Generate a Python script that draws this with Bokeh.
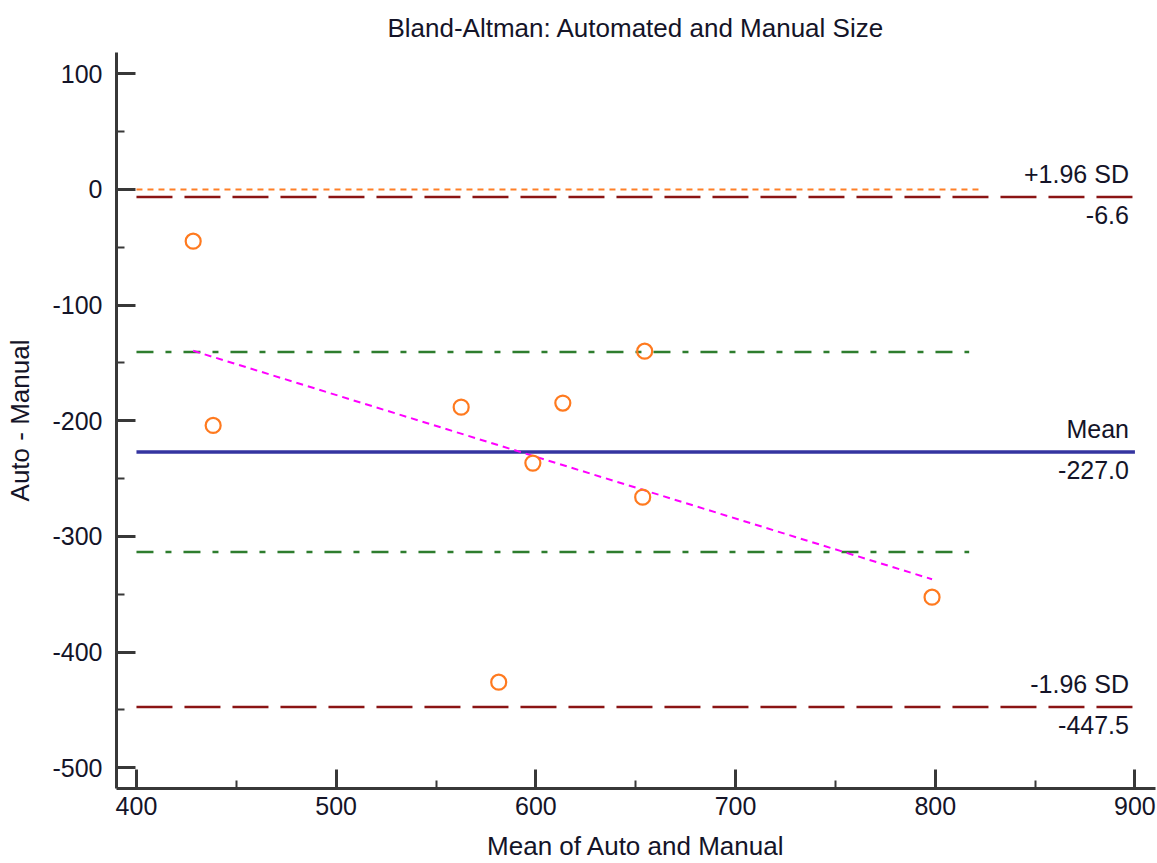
from bokeh.plotting import figure
from bokeh.models import Range1d, FixedTicker, ColumnDataSource, PrintfTickFormatter
from bokeh.core.properties import value
from bokeh.embed import file_html
from bokeh.resources import INLINE

# ---- data ----
mean_xy = [428.4, 438.4, 562.6, 598.5, 581.4, 613.5, 654.5, 653.5, 798.4]
diff_xy = [-44.7, -204.0, -188.2, -236.6, -426.0, -184.7, -139.8, -266.0, -352.5]

mean_diff = -227.0
sd_upper = -6.6
sd_lower = -447.5
ci_upper = -140.5
ci_lower = -313.5
equality = 0.0

full_line_x = [400, 900]
ci_line_x = [400, 817]
equality_line_x = [400, 823]

reg_x = [428.4, 798.4]
reg_y = [-139.5, -337.0]

x_ticks = [400, 500, 600, 700, 800, 900]
x_minor = [450, 550, 650, 750, 850]
y_ticks = [100, 0, -100, -200, -300, -400, -500]
y_minor = [50, -50, -150, -250, -350, -450]

FONT = "Liberation Sans"
TXT = "#141428"
AX = "#383838"

p = figure(width=1157, height=863,
           x_range=Range1d(390, 910.3), y_range=Range1d(-517.9, 118.4),
           output_backend="svg", toolbar_location=None,
           min_border_left=116, min_border_right=2,
           min_border_top=52, min_border_bottom=75,
           title="Bland-Altman: Automated and Manual Size")

p.outline_line_color = None
p.background_fill_color = "white"
p.border_fill_color = "white"
p.xgrid.visible = False
p.ygrid.visible = False

p.title.align = "center"
p.title.text_font = FONT
p.title.text_font_size = "26px"
p.title.text_font_style = "normal"
p.title.text_color = TXT
p.title.standoff = 20

for ax in (p.xaxis[0], p.yaxis[0]):
    ax.axis_line_width = 3
    ax.axis_line_color = AX
    ax.major_tick_line_color = AX
    ax.major_tick_line_width = 3
    ax.minor_tick_line_color = AX
    ax.minor_tick_line_width = 2
    ax.major_tick_in = 19
    ax.major_tick_out = 0
    ax.minor_tick_in = 8
    ax.minor_tick_out = 0
    ax.major_label_text_font = FONT
    ax.major_label_text_font_size = "25px"
    ax.major_label_text_color = TXT
    ax.axis_label_text_font = FONT
    ax.axis_label_text_font_size = "26px"
    ax.axis_label_text_font_style = "normal"
    ax.axis_label_text_color = TXT
    ax.formatter = PrintfTickFormatter(format="%d")

p.xaxis.ticker = FixedTicker(ticks=x_ticks, minor_ticks=x_minor)
p.yaxis.ticker = FixedTicker(ticks=y_ticks, minor_ticks=y_minor)
p.xaxis.axis_label = "Mean of Auto and Manual"
p.yaxis.axis_label = "Auto - Manual"
p.xaxis.major_label_standoff = 8
p.yaxis.major_label_standoff = 14
p.xaxis.axis_label_standoff = 13
p.yaxis.axis_label_standoff = 14

# line of equality
p.line(equality_line_x, [equality, equality], line_color="#FF7F27",
       line_width=2, line_dash="6 5")
# limits of agreement
for v in (sd_upper, sd_lower):
    p.line(full_line_x, [v, v], line_color="#8B1414", line_width=2.5,
           line_dash="36 12")
# CI of mean
for v in (ci_upper, ci_lower):
    p.line(ci_line_x, [v, v], line_color="#2E7D2E", line_width=2.5,
           line_dash="17 12 6 12")
# mean
p.line(full_line_x, [mean_diff, mean_diff], line_color="#3434A0", line_width=3.5)
# regression line
p.line(reg_x, reg_y, line_color="#FF00FF", line_width=2, line_dash="7 5")

# points
p.scatter(mean_xy, diff_xy, marker="circle", size=15, fill_color=None,
          line_color="#FF7A1F", line_width=2.2)

# right-hand labels
lab_x = 897
above = ColumnDataSource(dict(x=[lab_x] * 3, y=[sd_upper, mean_diff, sd_lower],
                              t=["+1.96 SD", "Mean", "-1.96 SD"]))
below = ColumnDataSource(dict(x=[lab_x] * 3, y=[sd_upper, mean_diff, sd_lower],
                              t=[f"{sd_upper:.1f}", f"{mean_diff:.1f}", f"{sd_lower:.1f}"]))
p.text(x="x", y="y", text="t", source=above, text_align="right",
       text_baseline="alphabetic", y_offset=-23, text_font=value(FONT),
       text_font_size="25px", text_color=TXT)
p.text(x="x", y="y", text="t", source=below, text_align="right",
       text_baseline="alphabetic", y_offset=18, text_font=value(FONT),
       text_font_size="25px", text_color=TXT)

open("out.html", "w").write(file_html(p, INLINE))
